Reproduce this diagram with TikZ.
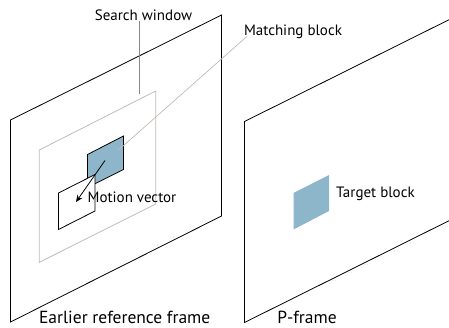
\documentclass[tikz,border=0pt]{standalone}
\usepackage{fontspec}
\setmainfont{PT Sans}
\usetikzlibrary{arrows.meta}
\definecolor{blockblue}{HTML}{8DB6CB}
\definecolor{wingray}{HTML}{C2BBB3}
\definecolor{leadgray}{HTML}{8C8782}
\begin{document}
\begin{tikzpicture}[x=1pt,y=-1pt,
  frameline/.style={draw=black,line width=0.8pt},
  winline/.style={draw=wingray,line width=0.8pt},
  leader/.style={draw=wingray,line width=0.7pt},
  darkleader/.style={draw=leadgray,line width=0.9pt},
  lbl/.style={font=\fontsize{15}{17}\selectfont,inner sep=0pt,anchor=base},
  biglbl/.style={font=\fontsize{17.5}{20}\selectfont,inner sep=0pt,anchor=base},
  mvarrow/.style={draw=black,line width=0.8pt,-{Stealth[length=7pt,width=6pt]}}]
\useasboundingbox (0,0) rectangle (449,328);
\clip (0,0) rectangle (449,328);
% left frame
\draw[frameline] (10.5,120) -- (221.5,15) -- (221.5,216) -- (10.5,322) -- cycle;
% search window
\draw[winline] (39.3,150) -- (155.7,91) -- (155.7,204) -- (39.3,262.3) -- cycle;
% matching block
\draw[frameline,fill=blockblue] (87.5,154.5) -- (123.5,136) -- (123.5,169.5) -- (87.5,187.5) -- cycle;
% motion-vector source block
\draw[frameline,fill=white] (58.5,193) -- (95,174.5) -- (95,211) -- (58.5,229.5) -- cycle;
% right frame
\draw[frameline] (244.5,121.5) -- (455.5,16.5) -- (455.5,217.5) -- (244.5,322.5) -- cycle;
% target block
\fill[blockblue] (293.5,193) -- (329,175) -- (329,211) -- (293.5,229.5) -- cycle;
% coordinates
\coordinate (mbc) at (105,160.5);
\coordinate (mvtip) at (76,202);
\coordinate (mbleader) at (118.5,150);
\coordinate (swleader) at (139.3,94);
% labels
\node[lbl] (sw) at (143.5,21) {Search window};
\node[lbl] (mb) at (293,36) {Matching block};
\node[lbl,anchor=base west] (mv) at (87.5,203) {Motion vector};
\node[lbl,anchor=base west] (tb) at (336,197.5) {Target block};
\node[biglbl] (erf) at (124.7,323.5) {Earlier reference frame};
\node[biglbl] (pf) at (307,323.5) {P-frame};
% connectors
\draw[darkleader] (swleader) -- (swleader |- sw.south);
\draw[leader] (mbleader) -- ([xshift=-46pt,yshift=3pt]mb.south);
\draw[mvarrow] (mbc) -- (mvtip);
\end{tikzpicture}
\end{document}
